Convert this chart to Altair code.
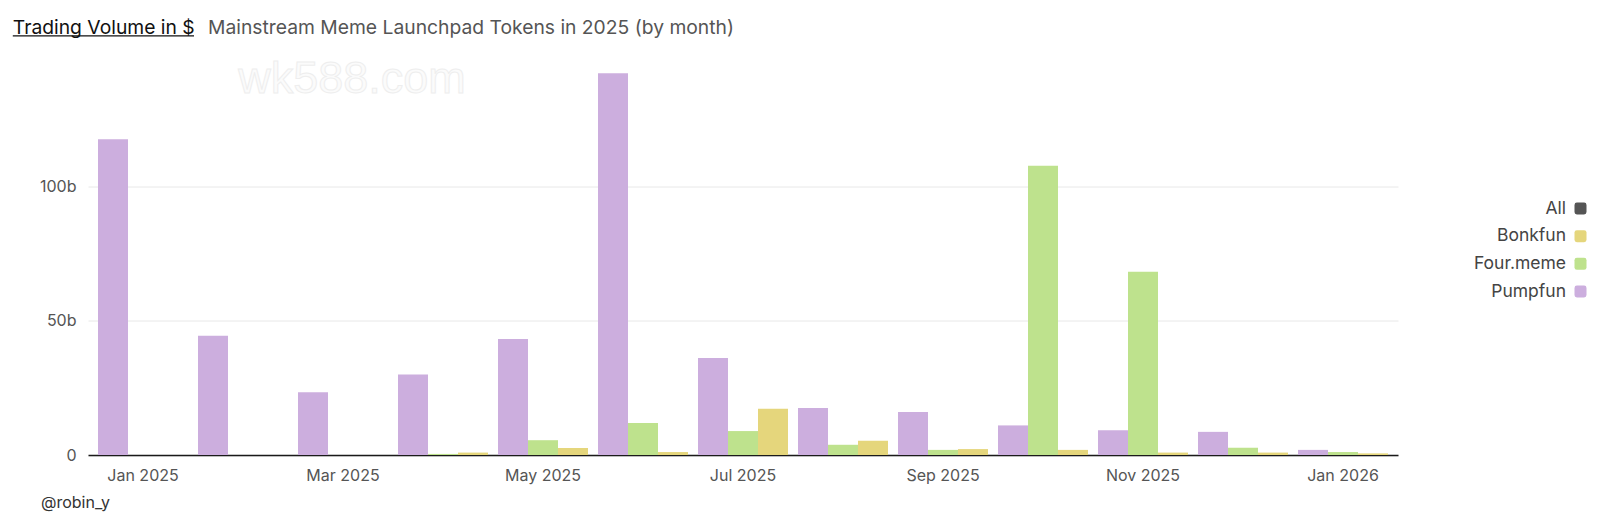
import altair as alt
import pandas as pd

# ---- data (billions of USD) ----
months = ["Jan 2025", "Feb 2025", "Mar 2025", "Apr 2025", "May 2025", "Jun 2025",
          "Jul 2025", "Aug 2025", "Sep 2025", "Oct 2025", "Nov 2025", "Dec 2025", "Jan 2026"]
pumpfun = [117.4, 44.3, 23.3, 29.9, 43.1, 141.9, 36.1, 17.5, 16.0, 11.0, 9.2, 8.6, 1.9]
fourmeme = [0, 0, 0, 0.4, 5.5, 11.9, 8.9, 3.8, 1.9, 107.5, 68.1, 2.7, 1.1]
bonkfun = [0, 0, 0, 0.9, 2.6, 1.1, 17.2, 5.3, 2.2, 1.9, 0.9, 0.9, 0.6]

bar_order = ["Pumpfun", "Four.meme", "Bonkfun"]
legend_order = ["All", "Bonkfun", "Four.meme", "Pumpfun"]
colors = ["#555555", "#E5D67C", "#BEE28D", "#CCAEDE"]
month_labels = months[::2]
y_ticks = [0, 50, 100]

title_main = "Trading Volume in $"
title_sub = "Mainstream Meme Launchpad Tokens in 2025 (by month)"
footer = "@robin_y"
watermark = "wk588.com"

rows = []
for i, m in enumerate(months):
    rows.append({"month": m, "series": "Pumpfun", "value": pumpfun[i]})
    rows.append({"month": m, "series": "Four.meme", "value": fourmeme[i]})
    rows.append({"month": m, "series": "Bonkfun", "value": bonkfun[i]})
df = pd.DataFrame(rows)
leg_df = pd.DataFrame({"series": legend_order})

FONT = "Inter"
color_scale = alt.Scale(domain=legend_order, range=colors)

bars = alt.Chart(df).mark_bar().encode(
    x=alt.X("month:N", sort=months,
            scale=alt.Scale(paddingInner=0.1, paddingOuter=0.1),
            axis=alt.Axis(values=month_labels, labelAngle=0, title=None, ticks=False,
                          domainColor="#1a1a1a", domainWidth=1.6, labelFontSize=16,
                          labelColor="#555555", labelPadding=12, grid=False, labelFont=FONT)),
    xOffset=alt.XOffset("series:N", sort=bar_order,
                        scale=alt.Scale(paddingInner=0, paddingOuter=0)),
    y=alt.Y("value:Q", scale=alt.Scale(domain=[0, 150], nice=False),
            axis=alt.Axis(values=y_ticks, title=None, domain=False, ticks=False,
                          labelExpr="datum.value == 0 ? '0' : datum.value + 'b'",
                          gridColor="#e8e8e8", labelPadding=12, labelFontSize=16,
                          labelColor="#555555", labelFont=FONT)),
    color=alt.Color("series:N", scale=color_scale, legend=None),
)

leg_y = alt.Y("series:N", sort=legend_order,
              scale=alt.Scale(type="point", range=[157, 240], padding=0), axis=None)

leg_text = alt.Chart(leg_df).mark_text(
    align="right", baseline="middle", fontSize=17.5, font=FONT, color="#444444"
).encode(text="series:N", x=alt.value(1478), y=leg_y)

rounded_sq = ("M -0.6 -1 L 0.6 -1 Q 1 -1 1 -0.6 L 1 0.6 Q 1 1 0.6 1 L -0.6 1 "
              "Q -1 1 -1 0.6 L -1 -0.6 Q -1 -1 -0.6 -1 Z")
leg_sym = alt.Chart(leg_df).mark_point(
    shape=rounded_sq, size=144, filled=True, opacity=1
).encode(x=alt.value(1492.5), y=leg_y,
         color=alt.Color("series:N", scale=color_scale, legend=None))

t1 = alt.Chart(pd.DataFrame({"t": [title_main]})).mark_text(
    align="left", baseline="alphabetic", fontSize=19.3, font=FONT, color="#111111"
).encode(text="t:N", x=alt.value(-75.2), y=alt.value(-17.7))
underline = alt.Chart(pd.DataFrame({"t": [title_main]})).mark_rule(
    color="#111111", strokeWidth=1.2
).encode(x=alt.value(-75.2), x2=alt.value(106), y=alt.value(-15.6))
t2 = alt.Chart(pd.DataFrame({"t": [title_sub]})).mark_text(
    align="left", baseline="alphabetic", fontSize=19.3, font=FONT, color="#555555"
).encode(text="t:N", x=alt.value(120), y=alt.value(-17.7))

foot = alt.Chart(pd.DataFrame({"t": [footer]})).mark_text(
    align="left", baseline="middle", fontSize=16, font=FONT, color="#333333"
).encode(text="t:N", x=alt.value(-47), y=alt.value(451.8))

wm = alt.Chart(pd.DataFrame({"t": [watermark]})).mark_text(
    align="center", baseline="middle", fontSize=45, font="Liberation Sans",
    fill="#fbfbfb", stroke="#eeeeee", strokeWidth=1
).encode(text="t:N", x=alt.value(264), y=alt.value(27))

chart = alt.layer(wm, bars, leg_text, leg_sym, t1, underline, t2, foot).resolve_scale(
    y="independent"
).properties(
    width=1310, height=403.5,
    autosize=alt.AutoSizeParams(type="none"),
    padding={"left": 80, "top": 43.5, "right": 194, "bottom": 60},
    background="white",
).configure_view(stroke=None)

chart.save("out.html", embed_options={"renderer": "svg", "actions": False})
